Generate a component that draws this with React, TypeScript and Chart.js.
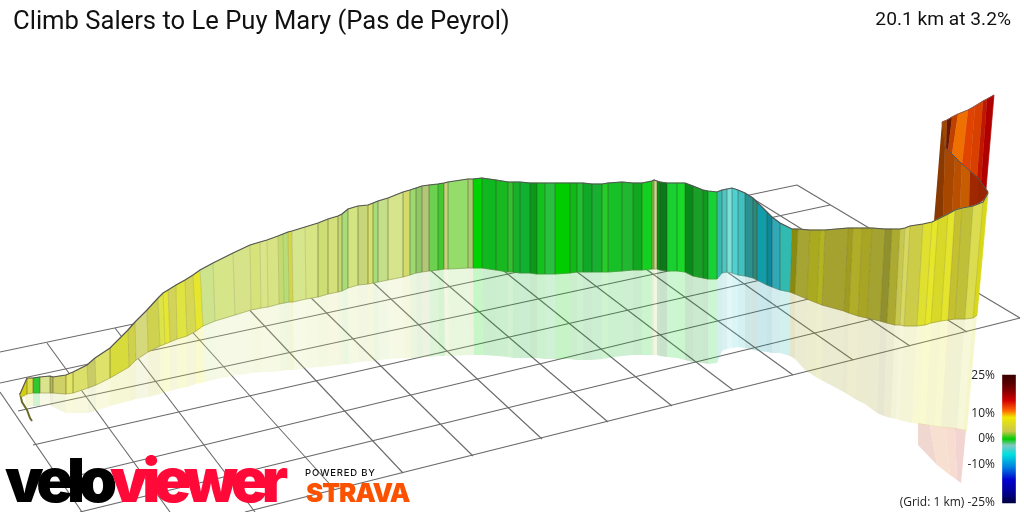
import { useEffect, useRef } from 'react';
import Chart from 'chart.js/auto';

const titleText = 'Climb Salers to Le Puy Mary (Pas de Peyrol)';
const summaryText = '20.1 km at 3.2%';

// front wall of the ribbon, one entry per slice edge
const topX = [20,27,33,40,50,53,66,73,87,95,110,128,135,147,158,163,168,176,185,193,200,213,233,250,260,267,278,283,288,292,305,318,328,338,342,348,358,368,373,378,388,403,410,416,422,429,438,444,448,468,473,482,496,508,513,520,530,537,545,555,570,577,583,592,602,608,622,633,642,652,654,657,660,667,677,685,693,703,708,717,722,727,732,738,745,753,757,767,772,780,792,798,810,820,825,848,853,862,872,885,892,900,905,910,923,932,938,948,955,962,973,983,988];
const topY = [394,378,378,377,376,377,375,372,365,358,348,330,322,310,298,293,290,285,280,275,270,263,253,245,242,240,236,234,232,231,227,223,219,216,214,209,206,205,203,201,198,192,190,188,186,185,184,183,182,179,179,178,180,182,182,182,183,183,183,183,183,183,183,184,184,183,182,183,183,181,180,181,182,183,183,183,186,190,191,192,190,189,188,190,193,198,202,212,217,223,229,229,230,230,230,228,228,228,228,229,229,229,228,226,224,222,219,214,210,208,206,202,193];
const bottomX = [21,27,33,40,50,53,66,73,88,96,110,129,136,148,160,165,170,177,187,196,203,215,235,251,261,268,279,284,289,293,306,318,328,338,342,348,358,368,373,378,388,403,410,416,422,429,438,444,448,468,473,482,496,508,513,520,530,537,545,555,570,577,583,592,602,608,622,633,642,652,654,657,660,667,677,685,693,703,708,717,722,727,732,738,745,753,757,767,772,780,790,795,807,817,822,844,849,858,867,880,887,895,900,904,917,925,931,941,948,955,965,973,977];
const bottomY = [397,394,393,393,393,393,394,393,388,385,378,367,360,352,346,344,342,339,336,331,326,321,315,310,308,307,304,303,302,302,299,297,294,292,291,288,285,284,283,282,280,277,275,273,272,271,270,269,269,268,268,268,270,272,272,273,273,274,274,274,273,272,272,272,272,272,271,270,270,269,269,269,270,271,271,272,276,278,279,279,273,272,273,275,276,278,280,285,287,290,292,294,299,303,305,311,313,316,318,321,323,325,325,326,326,325,323,321,320,319,319,318,315];
const shadowX = [25,27,33,40,50,53,66,73,88,96,110,129,136,148,160,165,170,177,187,196,205,217,237,253,263,270,281,286,290,294,307,319,329,339,343,349,359,369,374,379,389,404,411,417,423,430,439,445,449,469,474,483,497,508,513,520,530,537,545,555,570,577,583,592,602,608,622,633,642,652,654,657,660,667,677,685,693,703,708,717,722,727,732,738,745,753,757,767,772,780,790,795,806,816,821,842,847,855,865,877,884,891,896,899,912,920,925,935,941,948,957,963,967];
const shadowY = [397,407,406,406,405,407,413,413,413,411,406,401,399,397,394,392,391,389,387,384,382,379,375,373,372,372,371,370,370,370,368,367,366,365,364,364,362,361,361,360,359,358,358,358,357,357,356,356,356,355,355,355,356,357,358,358,358,358,359,359,359,360,360,360,359,358,356,355,355,355,355,355,356,357,358,360,362,363,364,363,351,349,348,347,348,350,351,352,353,353,356,359,371,377,380,391,394,399,404,413,416,418,419,420,423,424,425,426,427,428,429,430,431];
const sliceColors = ['#d4cf10','#dedc50','#2fc92f','#d9e48c','#b5b55a','#cfd066','#e3e566','#dbe06a','#c9cc66','#dfe26a','#d7db3c','#cfd14a','#d5d97c','#cfd24f','#dde34a','#e6e635','#d2d45a','#e0e440','#d6d855','#e6e62e','#cde38c','#d6e588','#d7e388','#d6e27a','#dbe588','#d8e384','#c4da6e','#b7dc78','#d2d648','#d6e68c','#d7e584','#cfde74','#d4e07a','#c8d870','#a8dc78','#d3e580','#c8d67a','#d6e06a','#a6dc7a','#c3e088','#d6e48c','#d3dc6a','#a0d870','#90c868','#b2c878','#6cd050','#44c830','#c8d47a','#96dc6a','#a8cc70','#00d400','#10b820','#18b820','#30c030','#18b028','#10b030','#0a9a18','#14c020','#28c040','#00cc00','#10b818','#20c030','#10a828','#18b030','#28cc28','#18c028','#20b830','#10a820','#14d020','#80c840','#c8d888','#0c8a1c','#0a7a18','#18d030','#18d828','#088a18','#18a028','#109820','#18d038','#38b8b0','#50c4c0','#80e0d8','#50d0d0','#40c0c0','#2a9090','#308878','#109ca8','#0c8898','#30a8b8','#30bab0','#8a8a10','#a6a432','#aaaa20','#b2b420','#a6a230','#a09c20','#b0ae28','#a8a424','#a4a230','#90902c','#acaa30','#c8c850','#d8d860','#cccc48','#e0e030','#e6e62a','#d8d828','#e4e42c','#c4c030','#c0c038','#dcdc50','#d8d818'];

// the steep last part that folds back behind the wall
const rearTopX = [942,947,952,958,968,975,983,987,994];
const rearTopY = [122,120,117,114,110,106,101,99,95];
const rearBottomX = [945,946,948,952,962,970,977,981,986];
const rearBottomY = [147,148,150,154,164,171,177,183,189];
const rearColors = ['#a04800','#6a1800','#c04000','#ee7000','#e04400','#d84000','#c01800','#b00000'];

const lowerTopX = [942,945,955,962,970,978,988];
const lowerTopY = [122,147,157,164,171,178,192];
const lowerBottomX = [934,943,952,960,969,978,987];
const lowerBottomY = [221,216,212,208,207,204,197];
const lowerColors = ['#8a3a00','#a84800','#b85000','#c85c00','#a02800','#982400'];

const pinkTopX = [918,930,945,955,966];
const pinkTopY = [423,425,427,428,430];
const pinkBottomX = [918,937,950,957,961];
const pinkBottomY = [445,465,475,480,483];
const pinkColors = ['#f0d8d0','#f8e0d0','#f8dcd0','#f2d4d0'];

const startTailX = [20,22,27,30,32];
const startTailY = [393,402,410,418,421];

// 1 km grid, lines running across and lines running away from the viewer
const acrossFromX = [0,0,18,33,59,80,245];
const acrossFromY = [352,383,411,445,480,512,512];
const acrossToX = [797,830,868,902,937,979,1020];
const acrossToY = [185,205,228,248,268,293,318];
const alongFromX = [797,747,700,647,589,535,479,422,365,302,241,177,115,47,0];
const alongFromY = [185,195,205,216,228,240,251,263,275,289,301,315,328,343,392];
const alongToX = [1020,967,910,853,793,733,672,608,542,473,403,335,255,170,82];
const alongToY = [318,332,346,360,375,390,406,422,439,456,473,490,512,512,512];

const gradientTicks = ['25%','10%','0%','-10%','(Grid: 1 km) -25%'];
const gradientTickY = [375,413,438,464,502];
const gradientStops = [0,0.07,0.13,0.2,0.28,0.33,0.44,0.5,0.55,0.62,0.72,0.82,0.92,1];
const gradientColors = ['#3a0000','#5a0000','#8a0000','#d40000','#ff6a00','#f0e800','#c8c84a','#00cc00','#80c8c0','#00e0e0','#0080e0','#0000d0','#000090','#000040'];

function polygon(xs: number[], ys: number[], color: string, seam = 0.7) {
  return {
    type: 'line' as const,
    data: xs.map((x, i) => ({ x, y: ys[i] })),
    fill: 'shape',
    backgroundColor: color,
    borderColor: color,
    borderWidth: seam,
    pointRadius: 0,
    tension: 0,
  };
}

function stroke(xs: number[], ys: number[], color: string, width: number) {
  return {
    type: 'line' as const,
    data: xs.map((x, i) => ({ x, y: ys[i] })),
    fill: false,
    borderColor: color,
    borderWidth: width,
    pointRadius: 0,
    tension: 0,
  };
}

function buildDatasets() {
  const out: any[] = [];

  acrossFromX.forEach((x, i) => {
    out.push(stroke([x, acrossToX[i]], [acrossFromY[i], acrossToY[i]], '#6a6a6a', 1.1));
  });
  alongFromX.forEach((x, i) => {
    out.push(stroke([x, alongToX[i]], [alongFromY[i], alongToY[i]], '#6a6a6a', 1.1));
  });

  pinkColors.forEach((c, i) => {
    out.push(polygon(
      [pinkTopX[i], pinkTopX[i + 1], pinkBottomX[i + 1], pinkBottomX[i]],
      [pinkTopY[i], pinkTopY[i + 1], pinkBottomY[i + 1], pinkBottomY[i]],
      c, 0));
  });

  sliceColors.forEach((c, i) => {
    out.push(polygon(
      [bottomX[i], bottomX[i + 1], shadowX[i + 1], shadowX[i]],
      [bottomY[i], bottomY[i + 1], shadowY[i + 1], shadowY[i]],
      c + '38', 0));
  });

  rearColors.forEach((c, i) => {
    out.push(polygon(
      [rearTopX[i], rearTopX[i + 1], rearBottomX[i + 1], rearBottomX[i]],
      [rearTopY[i], rearTopY[i + 1], rearBottomY[i + 1], rearBottomY[i]],
      c));
  });
  lowerColors.forEach((c, i) => {
    out.push(polygon(
      [lowerTopX[i], lowerTopX[i + 1], lowerBottomX[i + 1], lowerBottomX[i]],
      [lowerTopY[i], lowerTopY[i + 1], lowerBottomY[i + 1], lowerBottomY[i]],
      c));
  });
  out.push(stroke(lowerTopX.slice(1), lowerTopY.slice(1), '#555555', 1));
  out.push(stroke(rearTopX, rearTopY, '#8a5a50', 1));
  out.push(stroke(startTailX, startTailY, '#6b6b2a', 2));

  sliceColors.forEach((c, i) => {
    out.push(polygon(
      [topX[i], topX[i + 1], bottomX[i + 1], bottomX[i]],
      [topY[i], topY[i + 1], bottomY[i + 1], bottomY[i]],
      c));
  });
  // thin darker seams between slices
  sliceColors.forEach((_, i) => {
    if (i === 0) return;
    out.push(stroke([topX[i], bottomX[i]], [topY[i], bottomY[i]], 'rgba(70,70,40,0.2)', 0.8));
  });
  out.push(stroke(bottomX, bottomY, 'rgba(110,110,70,0.35)', 1));
  out.push(stroke(topX, topY, '#555555', 1.2));

  out.push({
    type: 'bar' as const,
    data: [{ x: 1009, y: [375, 503] }],
    barThickness: 13,
    borderWidth: 0,
    backgroundColor: (ctx: any) => {
      const g = ctx.chart.ctx.createLinearGradient(0, 375, 0, 503);
      gradientStops.forEach((s, i) => g.addColorStop(s, gradientColors[i]));
      return g;
    },
  });

  // later entries paint over earlier ones
  return out.map((d, i) => ({ ...d, order: -i }));
}

const overlay = (extra: any) => ({ position: 'absolute', whiteSpace: 'nowrap', ...extra });

export default function App() {
  const canvasRef = useRef<HTMLCanvasElement>(null);

  useEffect(() => {
    if (!canvasRef.current) return;
    const chart = new Chart(canvasRef.current, {
      type: 'line',
      data: { datasets: buildDatasets() },
      options: {
        animation: false,
        responsive: false,
        devicePixelRatio: 1,
        layout: { padding: 0 },
        plugins: { legend: { display: false }, tooltip: { enabled: false }, title: { display: false } },
        scales: {
          x: { type: 'linear', min: 0, max: 1024, offset: false, display: false },
          y: { type: 'linear', min: 0, max: 512, reverse: true, display: false },
        },
      },
    } as any);
    return () => chart.destroy();
  }, []);

  return (
    <div style={{ position: 'fixed', left: 0, top: 0, width: 1024, height: 512, background: '#fff', overflow: 'hidden' }}>
      <canvas ref={canvasRef} width={1024} height={512} style={{ position: 'absolute', left: 0, top: 0 }} />
      <div style={overlay({ left: 13, top: 4, font: '25.6px/32px Roboto', color: '#111' })}>{titleText}</div>
      <div style={overlay({ right: 13, top: 7, font: '19.2px/24px Roboto', color: '#111' })}>{summaryText}</div>
      {gradientTicks.map((t, i) => (
        <div key={t} style={overlay({ right: 29, top: gradientTickY[i] - 9, font: '12px/18px "Open Sans"', color: '#222' })}>{t}</div>
      ))}
      <div style={overlay({ left: 5, top: 440, font: '900 61px/80px Inter', letterSpacing: -6.2, color: '#000' })}>
        velo<span style={{ color: '#ff0a38' }}>viewer</span>
      </div>
      <div style={overlay({ left: 305, top: 467, font: '500 9.5px/12px Inter', letterSpacing: 0.8, color: '#111' })}>POWERED BY</div>
      <div style={overlay({ left: 306, top: 478, font: '900 26px/30px Inter', letterSpacing: -1.1, color: '#fc5200' })}>STRAVA</div>
    </div>
  );
}
